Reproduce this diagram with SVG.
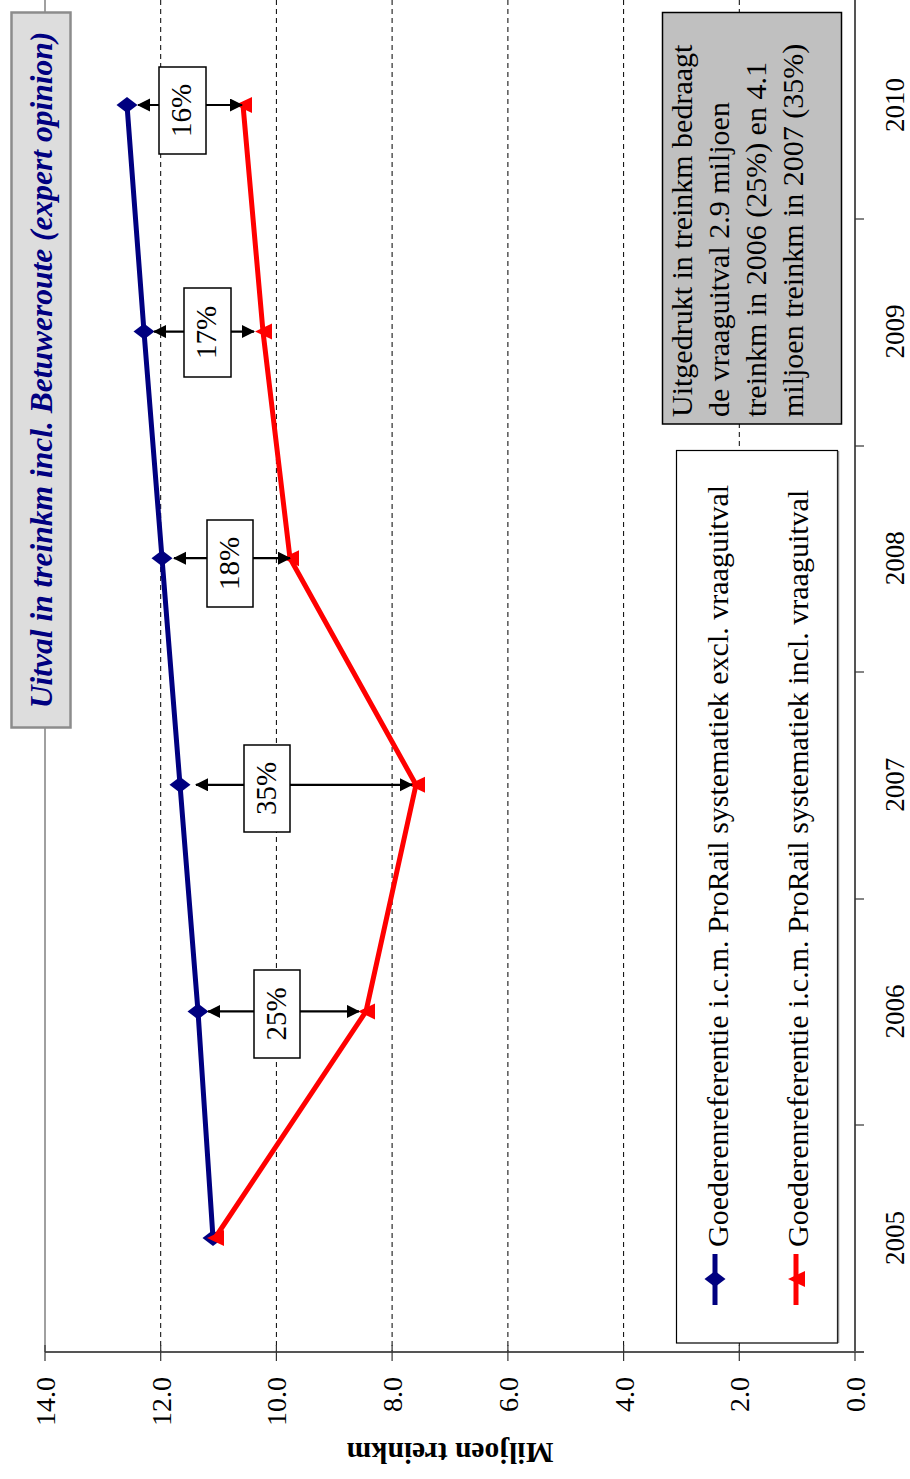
<svg xmlns="http://www.w3.org/2000/svg" width="910" height="1479" viewBox="0 0 910 1479">
<style>
.grid{stroke:#000;stroke-width:1;stroke-dasharray:5,4;fill:none}
.axis{stroke:#555;stroke-width:2;fill:none}
.tick{stroke:#333;stroke-width:1.2}
.lbl{font-family:"Liberation Serif","Times New Roman",serif;font-size:28px;fill:#000}
.yr{font-family:"Liberation Serif","Times New Roman",serif;font-size:27px;fill:#000}
.blue{stroke:#000080;stroke-width:5;fill:none;stroke-linejoin:round}
.red{stroke:#FF0000;stroke-width:5;fill:none;stroke-linejoin:round}
.arr{stroke:#000;stroke-width:2.2;fill:none}
.pbox{fill:#fff;stroke:#000;stroke-width:1.5}
.ptxt{font-family:"Liberation Serif","Times New Roman",serif;font-size:29px;fill:#000}
.leg{font-family:"Liberation Serif","Times New Roman",serif;font-size:30px;fill:#000}
</style>
<defs>
<marker id="ah" markerUnits="userSpaceOnUse" markerWidth="14" markerHeight="14" refX="12" refY="6.5" orient="auto-start-reverse" viewBox="0 0 14 14">
<path d="M0,0 L13,6.5 L0,13 z" fill="#000"/>
</marker>
<path id="dia" d="M-10.5,0 L0,-8 L10.5,0 L0,8 z" fill="#000080"/>
<path id="tri" d="M-8,0 L9,-8 L9,8 z" fill="#FF0000"/>
</defs>
<rect width="910" height="1479" fill="#fff"/>

<g id="gridlines">
<line x1="45" y1="0" x2="45" y2="1352" stroke="#808080" stroke-width="1.5"/>
<line class="grid" x1="160.7" y1="0" x2="160.7" y2="1352"/>
<line class="grid" x1="276.4" y1="0" x2="276.4" y2="1352"/>
<line class="grid" x1="392.1" y1="0" x2="392.1" y2="1352"/>
<line class="grid" x1="507.9" y1="0" x2="507.9" y2="1352"/>
<line class="grid" x1="623.6" y1="0" x2="623.6" y2="1352"/>
<line class="grid" x1="739.3" y1="0" x2="739.3" y2="1352"/>
</g>

<g id="value-axis">
<line class="axis" x1="45" y1="1352" x2="864" y2="1352"/>
<line class="tick" x1="45" y1="1345" x2="45" y2="1361"/>
<line class="tick" x1="160.7" y1="1345" x2="160.7" y2="1361"/>
<line class="tick" x1="276.4" y1="1345" x2="276.4" y2="1361"/>
<line class="tick" x1="392.1" y1="1345" x2="392.1" y2="1361"/>
<line class="tick" x1="507.9" y1="1345" x2="507.9" y2="1361"/>
<line class="tick" x1="623.6" y1="1345" x2="623.6" y2="1361"/>
<line class="tick" x1="739.3" y1="1345" x2="739.3" y2="1361"/>
<line class="tick" x1="855" y1="1345" x2="855" y2="1361"/>
<g class="lbl" text-anchor="end">
<text transform="translate(55,1377) rotate(-90)">14.0</text>
<text transform="translate(170.7,1377) rotate(-90)">12.0</text>
<text transform="translate(286.4,1377) rotate(-90)">10.0</text>
<text transform="translate(402.1,1377) rotate(-90)">8.0</text>
<text transform="translate(517.9,1377) rotate(-90)">6.0</text>
<text transform="translate(633.6,1377) rotate(-90)">4.0</text>
<text transform="translate(749.3,1377) rotate(-90)">2.0</text>
<text transform="translate(865,1377) rotate(-90)">0.0</text>
</g>
<text transform="translate(450,1443) rotate(180)" text-anchor="middle" style="font-family:'Liberation Serif','Times New Roman',serif;font-size:29.5px;font-weight:bold">Miljoen treinkm</text>
</g>

<g id="category-axis">
<line class="axis" x1="855" y1="0" x2="855" y2="1352" stroke="#333"/>
<line class="tick" x1="855" y1="219" x2="864" y2="219"/>
<line class="tick" x1="855" y1="446" x2="864" y2="446"/>
<line class="tick" x1="855" y1="672" x2="864" y2="672"/>
<line class="tick" x1="855" y1="899" x2="864" y2="899"/>
<line class="tick" x1="855" y1="1125" x2="864" y2="1125"/>
<g class="yr" text-anchor="middle">
<text transform="translate(904,1238) rotate(-90)">2005</text>
<text transform="translate(904,1011.4) rotate(-90)">2006</text>
<text transform="translate(904,784.8) rotate(-90)">2007</text>
<text transform="translate(904,558.2) rotate(-90)">2008</text>
<text transform="translate(904,331.6) rotate(-90)">2009</text>
<text transform="translate(904,105) rotate(-90)">2010</text>
</g>
</g>

<g id="title">
<rect x="11.5" y="12.5" width="59" height="715" fill="#DDDDDD" stroke="#8C8C8C" stroke-width="2.5"/>
<text transform="translate(52,370) rotate(-90)" text-anchor="middle" style="font-family:'Liberation Serif','Times New Roman',serif;font-size:31.5px;font-weight:bold;font-style:italic;fill:#000080">Uitval in treinkm incl. Betuweroute (expert opinion)</text>
</g>

<g id="info-box">
<rect x="662.5" y="12.5" width="179" height="411.5" fill="#C0C0C0" stroke="#000" stroke-width="1.5"/>
<g class="leg">
<text transform="translate(692,417) rotate(-90)">Uitgedrukt in treinkm bedraagt</text>
<text transform="translate(729,417) rotate(-90)">de vraaguitval 2.9 miljoen</text>
<text transform="translate(766,417) rotate(-90)">treinkm in 2006 (25%) en 4.1</text>
<text transform="translate(803,417) rotate(-90)">miljoen treinkm in 2007 (35%)</text>
</g>
</g>

<g id="legend">
<rect x="676.5" y="450.5" width="161" height="892.5" fill="#fff" stroke="#000" stroke-width="1.2"/>
<line x1="838.5" y1="451" x2="838.5" y2="1343" stroke="#888" stroke-width="1.5"/>
<line x1="715" y1="1254" x2="715" y2="1305" class="blue"/>
<use href="#dia" x="715" y="1279"/>
<line x1="796" y1="1254" x2="796" y2="1305" class="red"/>
<use href="#tri" x="796" y="1279"/>
<g class="leg">
<text transform="translate(728,1247) rotate(-90)">Goederenreferentie i.c.m. ProRail systematiek excl. vraaguitval</text>
<text transform="translate(808,1247) rotate(-90)">Goederenreferentie i.c.m. ProRail systematiek incl. vraaguitval</text>
</g>
</g>

<g id="series-excl">
<polyline class="blue" points="213,1238 198,1011.4 180,784.8 162,558.2 144,331.6 127,105"/>
<use href="#dia" x="213" y="1238"/>
<use href="#dia" x="198" y="1011.4"/>
<use href="#dia" x="180" y="784.8"/>
<use href="#dia" x="162" y="558.2"/>
<use href="#dia" x="144" y="331.6"/>
<use href="#dia" x="127" y="105"/>
</g>

<g id="series-incl">
<polyline class="red" points="215,1238 366,1011.4 416,784.8 290,558.2 263,331.6 243,105"/>
<use href="#tri" x="215" y="1238"/>
<use href="#tri" x="366" y="1011.4"/>
<use href="#tri" x="416" y="784.8"/>
<use href="#tri" x="290" y="558.2"/>
<use href="#tri" x="263" y="331.6"/>
<use href="#tri" x="243" y="105"/>
</g>

<g id="connectors">
<line class="arr" x1="138" y1="105" x2="242" y2="105" marker-start="url(#ah)" marker-end="url(#ah)"/>
<line class="arr" x1="154" y1="331.6" x2="254" y2="331.6" marker-start="url(#ah)" marker-end="url(#ah)"/>
<line class="arr" x1="174" y1="558.2" x2="290" y2="558.2" marker-start="url(#ah)" marker-end="url(#ah)"/>
<line class="arr" x1="196" y1="784.8" x2="412" y2="784.8" marker-start="url(#ah)" marker-end="url(#ah)"/>
<line class="arr" x1="208" y1="1011.4" x2="359" y2="1011.4" marker-start="url(#ah)" marker-end="url(#ah)"/>
</g>

<g id="pct-16">
<rect class="pbox" x="159" y="67" width="47" height="87"/>
<text class="ptxt" transform="translate(191,110.5) rotate(-90)" text-anchor="middle">16%</text>
</g>
<g id="pct-17">
<rect class="pbox" x="184" y="288" width="47" height="89"/>
<text class="ptxt" transform="translate(216,332.5) rotate(-90)" text-anchor="middle">17%</text>
</g>
<g id="pct-18">
<rect class="pbox" x="207" y="520" width="46" height="87"/>
<text class="ptxt" transform="translate(239,563.5) rotate(-90)" text-anchor="middle">18%</text>
</g>
<g id="pct-35">
<rect class="pbox" x="244" y="745" width="46" height="87"/>
<text class="ptxt" transform="translate(276,788.5) rotate(-90)" text-anchor="middle">35%</text>
</g>
<g id="pct-25">
<rect class="pbox" x="254" y="970" width="46" height="88"/>
<text class="ptxt" transform="translate(286,1014) rotate(-90)" text-anchor="middle">25%</text>
</g>
</svg>
